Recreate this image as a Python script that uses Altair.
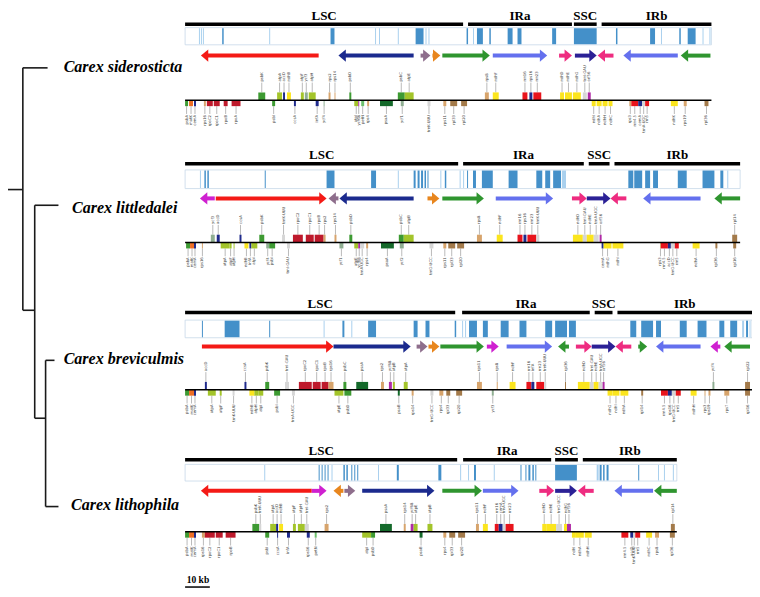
import math
import altair as alt
import pandas as pd

# ------------------------------------------------------------------ data
SPECIES = ["Carex siderosticta", "Carex littledalei", "Carex breviculmis", "Carex lithophila"]
REGION_NAMES = ["LSC", "IRa", "SSC", "IRb"]

# region spans in kb (LSC, IRa, SSC, IRb)
sid_regions = [(0, 112.4), (114.4, 156.4), (157.2, 166.4), (168.4, 212.8)]
lit_regions = [(0, 110.4), (112.4, 161.2), (163.2, 171.6), (173.6, 224.4)]
bre_regions = [(0, 109.2), (112.0, 163.6), (165.6, 172.8), (174.8, 229.2)]
lth_regions = [(0, 110.0), (112.4, 148.0), (149.6, 158.8), (160.8, 198.8)]

# similarity profile ticks: start kb, end kb, d = dark / l = light
sid_sim = [(5.6, 6.0, "l"), (6.4, 6.8, "l"), (7.2, 7.6, "l"), (15.0, 15.6, "d"), (34, 34.4, "l"),
           (58.8, 60.4, "d"), (76.8, 77.2, "l"), (78.4, 78.8, "l"), (86, 86.4, "l"), (93.2, 96.4, "d"),
           (97.2, 97.6, "l"), (98.4, 98.8, "l"), (113.8, 114.4, "d"), (116.4, 116.8, "l"), (118, 120.4, "d"),
           (123, 123.6, "d"), (130.4, 132.4, "d"), (134.4, 136, "d"), (148.4, 150, "d"), (157.2, 166.4, "d"),
           (174.2, 174.8, "d"), (188, 190, "d"), (192.4, 192.8, "l"), (199.8, 200.4, "d"), (203.2, 206.4, "d"),
           (209.2, 209.6, "l"), (212, 212.4, "l")]
lit_sim = [(6, 6.4, "l"), (7.8, 8.4, "d"), (9, 9.6, "d"), (32.2, 32.6, "d"), (57.2, 60.4, "d"), (75.2, 77.2, "d"),
           (86, 86.4, "l"), (92.4, 93.2, "d"), (94, 94.8, "d"), (95.4, 96.2, "d"), (96.8, 97.4, "d"), (98, 98.4, "d"),
           (103.2, 103.6, "l"), (105, 105.6, "d"), (111, 111.4, "l"), (112.4, 112.8, "l"), (114, 114.4, "d"),
           (116.4, 117.6, "d"), (120, 124.4, "d"), (130.8, 134.4, "d"), (142, 144.4, "d"), (145.6, 147.6, "d"),
           (148.8, 152, "d"), (152.4, 154, "l"), (179.2, 181.2, "d"), (181.6, 184.8, "d"), (186, 188, "d"),
           (189.2, 191.2, "d"), (199.2, 202.8, "d"), (209.2, 214, "d"), (216.4, 217.6, "d"), (219.2, 219.6, "l")]
bre_sim = [(6.8, 7.2, "d"), (16, 22, "d"), (34, 34.4, "d"), (56, 56.4, "l"), (63.6, 64.4, "d"), (67.2, 67.6, "l"),
           (74, 77.2, "d"), (92.4, 94, "d"), (97.2, 98.8, "d"), (109, 109.6, "d"), (112, 112.4, "l"),
           (113.2, 113.6, "l"), (114.8, 118, "d"), (120.4, 122.4, "d"), (127.6, 130.8, "d"), (135.2, 138, "d"),
           (145.6, 148.4, "d"), (149.6, 154.4, "d"), (155.2, 158, "d"), (180, 182.4, "d"), (184.4, 189.2, "d"),
           (190.4, 192.4, "d"), (200, 202.8, "d"), (207.2, 210.8, "d"), (216, 218, "d"), (220.4, 223.2, "d"),
           (225.2, 226, "l"), (226.8, 227.6, "d"), (228.2, 228.6, "l")]
lth_sim = [(32, 32.4, "l"), (54, 54.4, "d"), (55.2, 55.6, "d"), (56.4, 56.8, "d"), (57.6, 58, "d"), (59.2, 59.6, "l"),
           (64, 64.6, "d"), (65.2, 65.8, "d"), (67.2, 67.6, "d"), (68.4, 68.8, "d"), (69.6, 70, "d"), (78, 78.4, "l"),
           (85.6, 86.4, "d"), (102.4, 103.6, "d"), (111.2, 111.6, "l"), (114.4, 114.8, "l"), (116.8, 117.6, "d"),
           (124.8, 125.2, "l"), (135.6, 136, "d"), (137.6, 138, "d"), (138.8, 139.6, "d"), (140.4, 141, "d"),
           (141.6, 142, "d"), (149.6, 158.4, "d"), (166.4, 167.2, "l"), (167.6, 168.4, "d"), (169, 169.6, "d"),
           (170.4, 171.2, "d"), (183.2, 183.6, "d"), (191.2, 191.6, "l"), (193.6, 194, "l"), (197.2, 197.6, "l")]

# collinear blocks: tail kb, head kb, block
sid_blocks = [(54, 6.4, "red"), (92.4, 62, "navy"), (95.2, 99.2, "mauve"), (100, 103.2, "orange"),
              (104, 123.2, "green"), (124.4, 146.4, "blue"), (151.2, 156.4, "pink"), (157.6, 166.4, "indigo"),
              (173.2, 166.8, "pink"), (199.2, 177.2, "blue"), (212.4, 200.4, "green")]
lit_blocks = [(12, 6, "magenta"), (12.4, 57.2, "red"), (62, 58, "mauve"), (92.4, 62.4, "navy"),
              (98, 102.8, "orange"), (104, 120.8, "green"), (125.6, 148.8, "blue"), (156.4, 162.4, "pink"),
              (162.4, 172, "indigo"), (178.4, 172, "pink"), (208.4, 185.2, "blue"), (224.4, 214, "green")]
bre_blocks = [(6.8, 60, "red"), (60, 91.2, "navy"), (93.6, 98, "mauve"), (98.4, 102.8, "orange"),
              (103.2, 120.8, "green"), (122, 126.8, "magenta"), (130, 148.4, "blue"), (155.2, 150.8, "green"),
              (158, 164.4, "pink"), (164.4, 174, "indigo"), (180.4, 174, "pink"), (183.2, 186.8, "green"),
              (208.4, 190.4, "blue"), (216.4, 212.4, "magenta"), (228.4, 218, "green")]
lth_blocks = [(51.2, 6.4, "red"), (51.2, 57.2, "magenta"), (64, 60, "orange"), (64.4, 68.8, "mauve"),
              (71.6, 100.8, "navy"), (104, 120, "green"), (120.4, 134.8, "blue"), (143.2, 149.2, "pink"),
              (149.6, 158.4, "indigo"), (165.2, 158.8, "pink"), (189.2, 173.6, "blue"), (198.8, 189.6, "green")]

# genes: start kb, end kb, strand side (u above / d below), functional class
sid_genes = [
    (0, 1.2, "d", "psb"), (1.6, 3.2, "d", "clp"), (3.6, 4.4, "d", "oth"), (7.6, 8.4, "d", "rps"),
    (8.8, 11.2, "d", "rpo"), (11.6, 14, "d", "rpo"), (15.6, 17.2, "d", "rpo"), (18.8, 22.4, "d", "rpo"),
    (29.6, 32.4, "u", "psb"), (35.2, 36.4, "d", "psb"), (37.2, 39.2, "u", "atp"), (39.6, 40.4, "u", "oth"),
    (41.2, 42.8, "u", "ndh"), (44, 44.8, "d", "oth"), (46.8, 48, "u", "atp"), (48.4, 49.6, "u", "ycf"),
    (50, 52.8, "u", "atp"), (52.8, 54, "d", "oth"), (56, 56.4, "d", "ycf"), (58, 58.8, "u", "rps"),
    (60.4, 60.8, "u", "rps"), (66.4, 67.2, "u", "psb"), (68.4, 70, "d", "atp"), (70, 70.4, "d", "mag"),
    (71.2, 72.4, "d", "pet"), (73.6, 74.4, "d", "rps"), (78.8, 84, "d", "psa"), (86, 88.8, "u", "psb"),
    (88.8, 92.4, "u", "atp"), (87.2, 88.4, "d", "ycf"), (98, 99.2, "d", "int"), (104.4, 105.6, "d", "rps"),
    (107.2, 110, "d", "rpl"), (111.6, 114, "d", "rpl"), (121.2, 122.8, "u", "rps"), (124.4, 126.8, "u", "ndh"),
    (136.4, 138.4, "u", "rrn"), (139.2, 140.4, "u", "oth"), (140.8, 144, "u", "rrn"), (151.6, 153.2, "u", "ndh"),
    (153.6, 156.4, "u", "ndh"), (156.8, 160, "u", "ndh"), (160.8, 162.4, "u", "int"), (162.8, 164, "u", "mag"),
    (164.4, 166, "d", "ndh"), (166.4, 168.4, "d", "ndh"), (168.8, 170.8, "d", "ndh"), (171.2, 172.8, "d", "ndh"),
    (179.6, 180.4, "d", "rps"), (180.4, 183.2, "d", "rrn"), (183.2, 184.8, "d", "oth"), (184.8, 186, "d", "int"),
    (186, 187.6, "d", "rrn"), (196.4, 199.2, "d", "ndh"), (201.6, 202.8, "d", "rps"), (210, 211.6, "d", "rpl"),
]
lit_genes = [
    (0.4, 2, "d", "psb"), (2, 3.6, "d", "clp"), (3.6, 4.4, "d", "oth"), (6.8, 7.2, "d", "rps"),
    (10.4, 12, "u", "ycf"), (12.8, 14, "u", "oth"), (14.4, 18, "d", "atp"), (18, 18.8, "d", "atp"),
    (19.6, 20, "d", "atp"), (22, 22.8, "u", "oth"), (24, 25.6, "d", "ndh"), (26, 26.8, "d", "oth"),
    (26.8, 29.2, "d", "atp"), (30, 32, "u", "psb"), (32.8, 34, "d", "ycf"), (34, 36.4, "d", "psb"),
    (39.2, 40.4, "u", "int"), (41.2, 42.4, "d", "int"), (43.6, 47.6, "u", "rpo"), (48.8, 52, "u", "rpo"),
    (52.4, 56, "u", "rpo"), (56, 56.8, "u", "rps"), (60.4, 61.2, "u", "rps"), (62.4, 64, "d", "ycf"),
    (66.4, 67.6, "u", "psb"), (68.4, 70, "d", "atp"), (70, 70.8, "d", "mag"), (70.8, 72.4, "d", "int"),
    (73.2, 74, "d", "rps"), (79.2, 84.4, "d", "psa"), (86.4, 88.4, "u", "psb"), (88.4, 92.4, "u", "atp"),
    (86.8, 88.4, "d", "ycf"), (98.8, 100.4, "d", "int"), (104.4, 105.6, "d", "rps"), (106.4, 109.2, "d", "rpl"),
    (110, 112.8, "d", "rpl"), (118, 120, "u", "rps"), (126, 128.4, "u", "ndh"), (134.4, 136.4, "u", "rrn"),
    (136.8, 138, "u", "oth"), (138.4, 142, "u", "rrn"), (142, 143.2, "u", "int"), (156.8, 160.8, "u", "ndh"),
    (160.8, 162.4, "u", "int"), (162.4, 165.2, "u", "ndh"), (165.2, 167.2, "u", "int"), (167.6, 168.4, "u", "mag"),
    (168.4, 169.2, "d", "oth"), (169.2, 172.4, "d", "ndh"), (172.8, 177.2, "d", "ndh"), (192, 192.4, "d", "rps"),
    (192.4, 195.2, "d", "rrn"), (195.2, 196.4, "d", "oth"), (196.4, 198, "d", "int"), (198, 199.6, "d", "rrn"),
    (205.2, 208, "d", "ndh"), (214.4, 215.2, "d", "rpl"), (221.2, 223.2, "u", "rpl"), (221.6, 222.8, "d", "rpl"),
]
bre_genes = [
    (0, 1.6, "d", "psb"), (1.6, 3.6, "d", "clp"), (3.6, 4.4, "d", "oth"), (8, 8.8, "u", "oth"),
    (9.2, 12.4, "d", "atp"), (14, 14.8, "d", "atp"), (19.2, 20, "d", "int"), (24, 24.8, "u", "oth"),
    (26, 28, "d", "ndh"), (28, 29.6, "d", "atp"), (29.6, 31.6, "d", "atp"), (32.4, 34, "u", "psb"),
    (36, 38.4, "d", "psb"), (40.4, 42, "u", "int"), (43.2, 44.4, "d", "int"), (46, 51.2, "u", "rpo"),
    (51.6, 54.8, "u", "rpo"), (55.2, 58, "u", "rpo"), (58, 60, "u", "rps"), (60.4, 64, "d", "atp"),
    (64.4, 67.2, "d", "psb"), (64, 65.2, "u", "psb"), (69.2, 74, "u", "psa"), (79.2, 80.4, "u", "rps"),
    (82.4, 83.6, "u", "mag"), (84, 84.8, "u", "atp"), (86, 86.8, "d", "psa"), (88.4, 90, "u", "atp"),
    (91.6, 92.4, "d", "rps"), (99.2, 100.4, "d", "int"), (102.8, 104.4, "d", "rps"), (105.6, 107.2, "d", "rpl"),
    (109.6, 112, "d", "rpl"), (118, 120, "u", "rps"), (124, 124.8, "d", "ycf"), (126, 126.4, "u", "rps"),
    (131.2, 133.6, "u", "ndh"), (138, 140, "u", "rrn"), (140, 141.2, "u", "oth"), (142, 145.2, "u", "rrn"),
    (145.2, 146, "u", "int"), (153.6, 154, "u", "rpl"), (158.8, 163.6, "u", "ndh"), (163.6, 165.2, "u", "int"),
    (165.2, 167.2, "u", "ndh"), (167.2, 168.8, "u", "int"), (168.8, 169.6, "u", "mag"), (170.8, 172.8, "d", "ndh"),
    (172.8, 175.6, "d", "ndh"), (176, 179.2, "d", "ndh"), (184.4, 185.2, "d", "rpl"), (192.4, 195.2, "d", "rrn"),
    (195.2, 196.8, "d", "oth"), (196.8, 198.4, "d", "int"), (198.4, 200.4, "d", "rrn"), (204.4, 206.8, "d", "ndh"),
    (210, 210.4, "d", "rps"), (211.6, 212.4, "d", "rps"), (213.2, 214, "u", "ycf"), (218, 220, "d", "rps"),
    (226.4, 228.4, "d", "rpl"), (226.4, 228.4, "u", "rpl"),
]
lth_genes = [
    (0, 1.6, "d", "psb"), (1.6, 3.6, "d", "clp"), (3.6, 4.4, "d", "oth"), (6.8, 8, "d", "rps"),
    (8, 12, "d", "rpo"), (12.4, 15.2, "d", "rpo"), (16.4, 20.4, "d", "rpo"), (27.2, 30, "u", "psb"),
    (30, 30.8, "u", "int"), (32.4, 34, "d", "psb"), (34.4, 36.8, "u", "atp"), (36.8, 37.6, "u", "oth"),
    (37.2, 37.6, "d", "oth"), (38, 39.6, "u", "ndh"), (41.2, 42.4, "d", "oth"), (43.6, 44.8, "u", "atp"),
    (45.6, 48.4, "u", "atp"), (48.4, 50, "u", "int"), (49.2, 50.4, "d", "oth"), (52.4, 53.2, "d", "pet"),
    (56.4, 58, "u", "rps"), (71.6, 75.2, "d", "atp"), (75.2, 76.8, "d", "psb"), (78.8, 83.6, "u", "psa"),
    (88.4, 89.2, "u", "rps"), (91.2, 92.4, "u", "mag"), (92.4, 94, "u", "atp"), (94.8, 96, "d", "psa"),
    (98, 100, "u", "atp"), (104.4, 105.6, "d", "rps"), (106.8, 109.2, "d", "rpl"), (110.4, 113.2, "d", "rpl"),
    (117.6, 118.8, "u", "rps"), (120.4, 122.4, "u", "ndh"), (125.2, 126.8, "u", "rrn"), (126.8, 128.4, "u", "oth"),
    (128.4, 129.6, "u", "int"), (129.6, 132.8, "u", "rrn"), (144.4, 146, "u", "ndh"), (146, 150, "u", "ndh"),
    (150, 152.4, "u", "int"), (153.2, 154.4, "u", "ndh"), (154.4, 156, "u", "mag"), (156.4, 158, "d", "ndh"),
    (158, 161.2, "d", "ndh"), (161.6, 164.4, "d", "ndh"), (176.4, 179.2, "d", "rrn"), (180, 181.2, "d", "oth"),
    (181.2, 182, "d", "int"), (182, 184, "d", "rrn"), (186.4, 188.8, "d", "ndh"), (190, 191.6, "d", "rps"),
    (196, 198, "d", "rpl"), (196.4, 198, "u", "rpl"),
]

GENE_NAMES = {
    "psb": ["psbA", "psbK", "psbI", "psbD", "psbC", "psbZ", "psbJ", "psbL", "psbF", "psbE", "psbB", "psbT", "psbN", "psbH"],
    "psa": ["psaA", "psaB", "psaC", "psaI", "psaJ"],
    "atp": ["atpA", "atpF", "atpH", "atpI", "atpE", "atpB"],
    "ndh": ["ndhB", "ndhF", "ndhD", "ndhE", "ndhG", "ndhI", "ndhA", "ndhH", "ndhC", "ndhK", "ndhJ"],
    "rpo": ["rpoC2", "rpoC1", "rpoB", "rpoA"],
    "rrn": ["rrn16", "rrn23", "rrn4.5", "rrn5"],
    "rps": ["rps16", "rps2", "rps14", "rps4", "rps11", "rps8", "rps3", "rps19", "rps7", "rps12", "rps15", "rps18"],
    "rpl": ["rpl33", "rpl20", "rpl36", "rpl14", "rpl16", "rpl22", "rpl2", "rpl23", "rpl32"],
    "clp": ["matK", "clpP"],
    "oth": ["cemA", "accD", "ccsA", "infA", "rps16"],
    "ycf": ["ycf3", "ycf4", "ycf1", "ycf2"],
    "int": ["trnK-UUU", "trnI-GAU", "trnA-UGC", "trnG-UCC"],
    "mag": ["ycf68", "orf56"],
    "pet": ["petN", "petA", "petL", "petG", "petB", "petD"],
}

GENOMES = [
    (sid_regions, sid_sim, sid_blocks, sid_genes),
    (lit_regions, lit_sim, lit_blocks, lit_genes),
    (bre_regions, bre_sim, bre_blocks, bre_genes),
    (lth_regions, lth_sim, lth_blocks, lth_genes),
]

# ------------------------------------------------------------------ layout & style
W, H = 744, 581
X_DOMAIN = [-71.6, 229.2]
Y_DOMAIN = [3, 595]
KB_PER_PX = (X_DOMAIN[1] - X_DOMAIN[0]) / W

PANEL_Y = [
    {"label": 15.0, "bar": 19.5, "bt": 23, "bb": 40.5, "arrow": 51.5, "base": 97},
    {"label": 157.0, "bar": 161.7, "bt": 168, "bb": 187, "arrow": 197, "base": 242},
    {"label": 308.6, "bar": 313.3, "bt": 321, "bb": 339, "arrow": 348, "base": 392},
    {"label": 458.6, "bar": 463.3, "bt": 468, "bb": 485, "arrow": 495, "base": 536.7},
]
SPECIES_POS = [(-49.1, 68), (-45.7, 212), (-49.1, 366), (-46.1, 515)]
TREE_EDGES = [  # x1, x2, y1, y2 (cladogram)
    (-71.6, -65.6, 188, 188), (-65.6, -65.6, 64, 311), (-65.6, -55.6, 64, 64),
    (-65.6, -60.8, 311, 311), (-60.8, -60.8, 204, 421), (-60.8, -51.2, 204, 204),
    (-60.8, -56.4, 421, 421), (-56.4, -56.4, 362, 511), (-56.4, -52.8, 362, 362),
    (-56.4, -51.2, 511, 511),
]
BLOCK_COLORS = {"red": "#F41A16", "navy": "#1B2A8E", "mauve": "#8E6E8C", "orange": "#E8861E",
                "green": "#2F952F", "blue": "#6470EE", "pink": "#EE2C80", "indigo": "#2B2196",
                "magenta": "#CF20D0"}
GENE_COLORS = {"psb": "#3D9A32", "psa": "#14692A", "atp": "#A3C42A", "ndh": "#FBE51E", "rpo": "#BE1A2C",
               "rrn": "#E8141C", "rps": "#D7A46C", "rpl": "#A37A4A", "clp": "#EE6E24", "oth": "#1F2A8C",
               "ycf": "#8FAE92", "int": "#D6D6D6", "mag": "#B02AA6", "pet": "#6CC06C"}
SHADE_COLORS = {"d": "#4490C9", "l": "#A9D0EE"}
HEAD_SIZE = 150
HEAD_TIP_KB = 0.6 * math.sqrt(HEAD_SIZE) / 2 * KB_PER_PX
SHAPE_RIGHT = "M-0.6,-1L0.6,0L-0.6,1Z"
SHAPE_LEFT = "M0.6,-1L-0.6,0L0.6,1Z"

# ------------------------------------------------------------------ tables
reg_rows, box_rows, sim_rows, shaft_rows, head_rows = [], [], [], [], []
base_rows, gene_rows, lead_rows, lab_rows = [], [], [], []
for p, (regions, sim, blocks, genes) in enumerate(GENOMES):
    L = PANEL_Y[p]
    length = regions[-1][1]
    for name, (s, e) in zip(REGION_NAMES, regions):
        reg_rows.append({"x": s, "x2": e, "y": L["bar"], "mid": (s + e) / 2, "ly": L["label"], "name": name})
    box_rows.append({"x": 0, "x2": length, "y": L["bt"], "y2": L["bb"]})
    for s, e, sh in sim:
        sim_rows.append({"x": s, "x2": e, "y": L["bt"] + 0.6, "y2": L["bb"] - 0.6, "col": SHADE_COLORS[sh]})
    for tail, head, blk in blocks:
        d = 1 if head > tail else -1
        c = head - d * HEAD_TIP_KB
        col = BLOCK_COLORS[blk]
        shaft_rows.append({"x": tail, "x2": c, "y": L["arrow"], "col": col})
        head_rows.append({"x": c, "y": L["arrow"], "col": col, "shape": SHAPE_RIGHT if d > 0 else SHAPE_LEFT})
    base_rows.append({"x": 0, "x2": length, "y": L["base"]})
    counters = {}
    for s, e, side, cat in genes:
        k = counters.get(cat, 0)
        counters[cat] = k + 1
        name = GENE_NAMES[cat][k % len(GENE_NAMES[cat])]
        b = L["base"]
        if side == "u":
            y1, y2, ly1, ly2, ty = b - 8, b, b - 8, b - 18, b - 19
        else:
            y1, y2, ly1, ly2, ty = b, b + 6, b + 6, b + 14, b + 15
        gene_rows.append({"x": s, "x2": e, "y": y1, "y2": y2, "col": GENE_COLORS[cat]})
        mid = (s + e) / 2
        lead_rows.append({"x": mid, "y": ly1, "y2": ly2})
        lab_rows.append({"x": mid, "y": ty, "text": name, "side": side})

tree_df = pd.DataFrame(TREE_EDGES, columns=["x", "x2", "y", "y2"])
sp_df = pd.DataFrame({"x": [p[0] for p in SPECIES_POS], "y": [p[1] for p in SPECIES_POS], "name": SPECIES})
reg_df = pd.DataFrame(reg_rows)
box_df = pd.DataFrame(box_rows)
sim_df = pd.DataFrame(sim_rows)
shaft_df = pd.DataFrame(shaft_rows)
head_df = pd.DataFrame(head_rows)
base_df = pd.DataFrame(base_rows)
gene_df = pd.DataFrame(gene_rows)
lead_df = pd.DataFrame(lead_rows)
lab_df = pd.DataFrame(lab_rows)
scale_df = pd.DataFrame({"x": [0.0], "x2": [10.0], "y": [593.0], "mid": [5.2], "ty": [586.0], "text": ["10 kb"]})


def X(f):
    return alt.X(f"{f}:Q", scale=alt.Scale(domain=X_DOMAIN, nice=False, zero=False), axis=None)


def Y(f):
    return alt.Y(f"{f}:Q", scale=alt.Scale(domain=Y_DOMAIN, nice=False, zero=False, reverse=True), axis=None)


layers = [
    alt.Chart(tree_df).mark_rule(color="#1a1a1a", strokeWidth=1.6).encode(
        x=X("x"), x2=alt.X2("x2"), y=Y("y"), y2=alt.Y2("y2")),
    alt.Chart(sp_df).mark_text(align="left", baseline="alphabetic", font="Liberation Serif",
                               fontStyle="italic", fontWeight="bold", fontSize=16, color="black").encode(
        x=X("x"), y=Y("y"), text="name:N"),
    alt.Chart(reg_df).mark_rule(color="black", strokeWidth=3.5).encode(
        x=X("x"), x2=alt.X2("x2"), y=Y("y")),
    alt.Chart(reg_df).mark_text(font="Liberation Serif", fontWeight="bold", fontSize=13,
                                baseline="alphabetic", color="black").encode(
        x=X("mid"), y=Y("ly"), text="name:N"),
    alt.Chart(box_df).mark_rect(fill="white", stroke="#C6D8E8", strokeWidth=0.8).encode(
        x=X("x"), x2=alt.X2("x2"), y=Y("y"), y2=alt.Y2("y2")),
    alt.Chart(sim_df).mark_rect(strokeWidth=0).encode(
        x=X("x"), x2=alt.X2("x2"), y=Y("y"), y2=alt.Y2("y2"), color=alt.Color("col:N", scale=None)),
    alt.Chart(shaft_df).mark_rule(strokeWidth=4).encode(
        x=X("x"), x2=alt.X2("x2"), y=Y("y"), color=alt.Color("col:N", scale=None)),
    alt.Chart(head_df).mark_point(filled=True, opacity=1, size=HEAD_SIZE, strokeWidth=0).encode(
        x=X("x"), y=Y("y"), shape=alt.Shape("shape:N", scale=None), color=alt.Color("col:N", scale=None)),
    alt.Chart(lead_df).mark_rule(color="#8c8c8c", strokeWidth=0.6).encode(
        x=X("x"), y=Y("y"), y2=alt.Y2("y2")),
    alt.Chart(gene_df).mark_rect(strokeWidth=0).encode(
        x=X("x"), x2=alt.X2("x2"), y=Y("y"), y2=alt.Y2("y2"), color=alt.Color("col:N", scale=None)),
    alt.Chart(base_df).mark_rule(color="black", strokeWidth=1.6).encode(
        x=X("x"), x2=alt.X2("x2"), y=Y("y")),
    alt.Chart(lab_df).transform_filter(alt.datum.side == "u").mark_text(
        angle=270, align="left", baseline="middle", fontSize=3.8, color="#444", font="DejaVu Sans").encode(
        x=X("x"), y=Y("y"), text="text:N"),
    alt.Chart(lab_df).transform_filter(alt.datum.side == "d").mark_text(
        angle=270, align="right", baseline="middle", fontSize=3.8, color="#444", font="DejaVu Sans").encode(
        x=X("x"), y=Y("y"), text="text:N"),
    alt.Chart(scale_df).mark_rule(color="black", strokeWidth=1.5).encode(
        x=X("x"), x2=alt.X2("x2"), y=Y("y")),
    alt.Chart(scale_df).mark_text(font="Liberation Serif", fontWeight="bold", fontSize=9.5,
                                  baseline="middle", color="black").encode(
        x=X("mid"), y=Y("ty"), text="text:N"),
]

chart = alt.layer(*layers).properties(
    width=W, height=H, padding=0, autosize=alt.AutoSizeParams(type="none")
).configure_view(stroke=None)

chart.save("out.html", embed_options={"renderer": "svg", "actions": False})
